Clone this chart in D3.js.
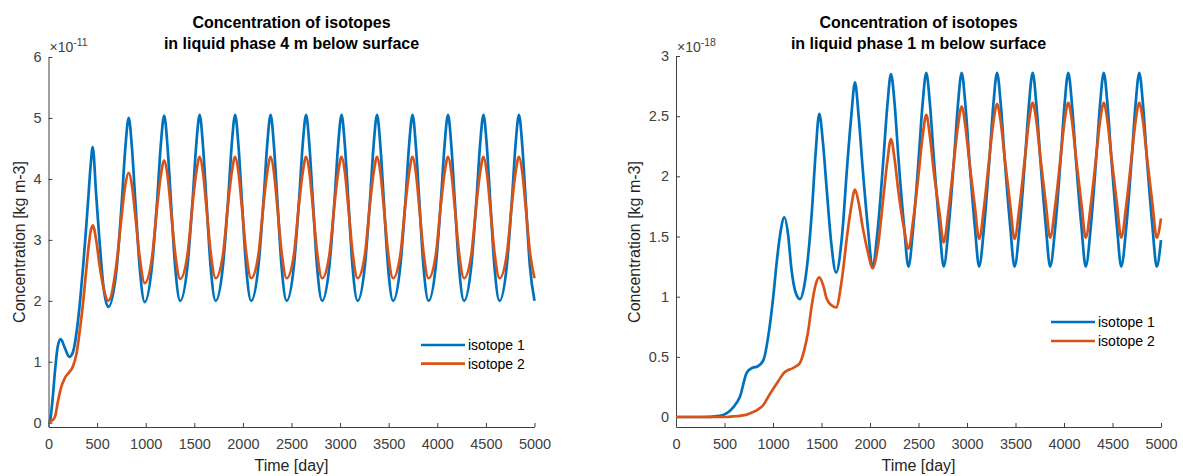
<!DOCTYPE html>
<html>
<head>
<meta charset="utf-8">
<script src="https://cdn.jsdelivr.net/npm/d3@7"></script>
<style>
  body { margin: 0; background: #fff; }
  svg, svg text { font-family: "Liberation Sans", Arial, Helvetica, sans-serif; }
  .tick text { fill: #404040; font-size: 14.5px; font-family: "Liberation Sans", Arial, Helvetica, sans-serif; }
  .domain, .tick line { stroke: #404040; }
</style>
</head>
<body>
<div id="chart"></div>
<script>
// Time axis ticks shared by both panels
const xTicks = [0, 500, 1000, 1500, 2000, 2500, 3000, 3500, 4000, 4500, 5000];
const seriesNames = ["isotope 1", "isotope 2"];

// Left panel: 4 m below surface (values x 1e-11)
const leftTitle = ["Concentration of isotopes", "in liquid phase 4 m below surface"];
const leftYTicks = [0, 1, 2, 3, 4, 5, 6];
const leftDays = [
  0, 15, 40, 67, 95, 125, 170, 214, 250, 290, 325, 358, 385, 410, 435, 455, 490, 524, 568, 615,
  699, 753, 790, 825, 860, 894, 938, 990,
  1064, 1118, 1155, 1190, 1225, 1259, 1303, 1355,
  1429, 1483, 1520, 1555, 1590, 1624, 1668, 1720,
  1794, 1848, 1885, 1920, 1955, 1989, 2033, 2085,
  2159, 2213, 2250, 2285, 2320, 2354, 2398, 2450,
  2524, 2578, 2615, 2650, 2685, 2719, 2763, 2815,
  2889, 2943, 2980, 3015, 3050, 3084, 3128, 3180,
  3254, 3308, 3345, 3380, 3415, 3449, 3493, 3545,
  3619, 3673, 3710, 3745, 3780, 3814, 3858, 3910,
  3984, 4038, 4075, 4110, 4145, 4179, 4223, 4275,
  4349, 4403, 4440, 4475, 4510, 4544, 4588, 4640,
  4714, 4768, 4805, 4840, 4875, 4909, 4953, 5000
];
const leftIso1 = [
  0, 0.03, 0.35, 0.85, 1.25, 1.37, 1.22, 1.08, 1.15, 1.5, 2.0, 2.6, 3.15, 3.7, 4.25, 4.52, 3.75, 3.0, 2.2, 1.9,
  2.5, 3.6, 4.5, 5.0, 4.48, 3.62, 2.55, 1.98,
  2.56, 3.65, 4.55, 5.04, 4.52, 3.65, 2.56, 2.0,
  2.56, 3.66, 4.56, 5.05, 4.53, 3.66, 2.56, 2.0,
  2.56, 3.66, 4.56, 5.05, 4.53, 3.66, 2.56, 2.0,
  2.56, 3.66, 4.56, 5.05, 4.53, 3.66, 2.56, 2.0,
  2.56, 3.66, 4.56, 5.05, 4.53, 3.66, 2.56, 2.0,
  2.56, 3.66, 4.56, 5.05, 4.53, 3.66, 2.56, 2.0,
  2.56, 3.66, 4.56, 5.05, 4.53, 3.66, 2.56, 2.0,
  2.56, 3.66, 4.56, 5.05, 4.53, 3.66, 2.56, 2.0,
  2.56, 3.66, 4.56, 5.05, 4.53, 3.66, 2.56, 2.0,
  2.56, 3.66, 4.56, 5.05, 4.53, 3.66, 2.56, 2.0,
  2.56, 3.66, 4.56, 5.05, 4.53, 3.66, 2.56, 2.0
];
const leftIso2 = [
  0.02, 0.02, 0.04, 0.1, 0.33, 0.55, 0.74, 0.83, 0.92, 1.15, 1.55, 2.0, 2.45, 2.85, 3.15, 3.24, 3.0, 2.6, 2.2, 2.0,
  2.6, 3.4, 3.9, 4.1, 3.88, 3.38, 2.72, 2.29,
  2.7, 3.55, 4.05, 4.3, 4.05, 3.5, 2.78, 2.36,
  2.75, 3.6, 4.1, 4.36, 4.1, 3.55, 2.8, 2.37,
  2.75, 3.6, 4.1, 4.36, 4.1, 3.55, 2.8, 2.37,
  2.75, 3.6, 4.1, 4.36, 4.1, 3.55, 2.8, 2.37,
  2.75, 3.6, 4.1, 4.36, 4.1, 3.55, 2.8, 2.37,
  2.75, 3.6, 4.1, 4.36, 4.1, 3.55, 2.8, 2.37,
  2.75, 3.6, 4.1, 4.36, 4.1, 3.55, 2.8, 2.37,
  2.75, 3.6, 4.1, 4.36, 4.1, 3.55, 2.8, 2.37,
  2.75, 3.6, 4.1, 4.36, 4.1, 3.55, 2.8, 2.37,
  2.75, 3.6, 4.1, 4.36, 4.1, 3.55, 2.8, 2.37,
  2.75, 3.6, 4.1, 4.36, 4.1, 3.55, 2.8, 2.37
];

// Right panel: 1 m below surface (values x 1e-18)
const rightTitle = ["Concentration of isotopes", "in liquid phase 1 m below surface"];
const rightYTicks = [0, 0.5, 1, 1.5, 2, 2.5, 3];
const rightDays = [
  0, 250, 450, 520, 590, 660, 730, 790, 840, 900, 960, 1000, 1040, 1080, 1117, 1155, 1190, 1235, 1278, 1320,
  1360, 1400, 1440, 1477, 1515, 1555, 1600, 1650,
  1711, 1766, 1807, 1845, 1883, 1924, 1981, 2025,
  2082, 2137, 2178, 2216, 2254, 2295, 2352, 2396,
  2446, 2501, 2542, 2580, 2618, 2659, 2716, 2760,
  2811, 2866, 2907, 2945, 2983, 3024, 3081, 3125,
  3176, 3231, 3272, 3310, 3348, 3389, 3446, 3490,
  3543, 3598, 3639, 3677, 3715, 3756, 3813, 3857,
  3910, 3965, 4006, 4044, 4082, 4123, 4180, 4224,
  4276, 4331, 4372, 4410, 4448, 4489, 4546, 4590,
  4642, 4697, 4738, 4776, 4814, 4855, 4912, 4956,
  5000
];
const rightIso1 = [
  0, 0, 0.01, 0.03, 0.08, 0.17, 0.37, 0.41, 0.42, 0.47, 0.72, 0.98, 1.3, 1.55, 1.66, 1.52, 1.23, 1.03, 0.98, 1.08,
  1.32, 1.7, 2.2, 2.52, 2.28, 1.88, 1.45, 1.2,
  1.5, 2.1, 2.5, 2.78, 2.5, 2.07, 1.55, 1.25,
  1.58, 2.13, 2.58, 2.85, 2.6, 2.13, 1.58, 1.25,
  1.58, 2.14, 2.6, 2.86, 2.6, 2.14, 1.58, 1.25,
  1.58, 2.14, 2.6, 2.86, 2.6, 2.14, 1.58, 1.25,
  1.58, 2.14, 2.6, 2.86, 2.6, 2.14, 1.58, 1.25,
  1.58, 2.14, 2.6, 2.86, 2.6, 2.14, 1.58, 1.25,
  1.58, 2.14, 2.6, 2.86, 2.6, 2.14, 1.58, 1.25,
  1.58, 2.14, 2.6, 2.86, 2.6, 2.14, 1.58, 1.25,
  1.58, 2.14, 2.6, 2.86, 2.6, 2.14, 1.58, 1.25,
  1.47
];
const rightIso2 = [
  0, 0, 0, 0, 0.005, 0.01, 0.02, 0.04, 0.06, 0.1, 0.18, 0.23, 0.28, 0.33, 0.37, 0.39, 0.4, 0.42, 0.45, 0.55,
  0.7, 0.93, 1.1, 1.16, 1.1, 0.98, 0.93, 0.91,
  1.15, 1.52, 1.75, 1.89, 1.78, 1.58, 1.36, 1.235,
  1.42, 1.82, 2.12, 2.31, 2.14, 1.86, 1.56, 1.4,
  1.64, 2.02, 2.33, 2.51, 2.33, 2.03, 1.7, 1.45,
  1.73, 2.13, 2.42, 2.58, 2.42, 2.12, 1.75, 1.48,
  1.75, 2.16, 2.45, 2.6, 2.45, 2.15, 1.76, 1.48,
  1.76, 2.16, 2.46, 2.61, 2.46, 2.16, 1.77, 1.49,
  1.76, 2.16, 2.46, 2.61, 2.46, 2.16, 1.77, 1.49,
  1.76, 2.16, 2.46, 2.61, 2.46, 2.16, 1.77, 1.49,
  1.76, 2.16, 2.46, 2.61, 2.46, 2.16, 1.77, 1.49,
  1.65
];

const colors = ["#0072BD", "#D95319"];
const width = 1183, height = 476;

const svg = d3.select("#chart").append("svg")
  .attr("width", width)
  .attr("height", height);

function drawPanel(p) {
  const x = d3.scaleLinear().domain([0, 5000]).range([p.left, p.right]);
  const y = d3.scaleLinear().domain(p.yDomain).range([427, p.top]);
  const g = svg.append("g");

  // axes (ticks point inward, like MATLAB)
  g.append("g")
    .attr("transform", "translate(0,427)")
    .call(d3.axisBottom(x).tickValues(xTicks).tickSizeInner(-4).tickSizeOuter(0).tickPadding(12)
      .tickFormat(d => String(d)));
  g.append("g")
    .attr("transform", `translate(${p.left},0)`)
    .call(d3.axisLeft(y).tickValues(p.yTicks).tickSizeInner(-4).tickSizeOuter(0).tickPadding(7)
      .tickFormat(d => String(d)));

  // lines
  const series = [p.iso1, p.iso2];
  series.forEach((vals, i) => {
    const line = d3.line()
      .x((d, j) => x(p.days[j]))
      .y(d => y(d))
      .curve(d3.curveMonotoneX);
    g.append("path")
      .datum(vals)
      .attr("fill", "none")
      .attr("stroke", colors[i])
      .attr("stroke-width", 2.7)
      .attr("d", line);
  });

  // exponent
  const ex = g.append("text")
    .attr("x", p.left + 1).attr("y", 52)
    .attr("fill", "#404040").attr("font-size", 14);
  ex.append("tspan").text("\u00d710");
  ex.append("tspan").attr("dy", -6).attr("font-size", 10.5).text(p.exponent);

  // title
  const cx = (p.left + p.right) / 2;
  p.title.forEach((t, i) => {
    g.append("text")
      .attr("x", cx).attr("y", 28 + i * 21)
      .attr("text-anchor", "middle")
      .attr("font-weight", "bold").attr("font-size", 16)
      .attr("fill", "#000")
      .text(t);
  });

  // axis labels
  g.append("text")
    .attr("x", cx).attr("y", 471)
    .attr("text-anchor", "middle").attr("font-size", 16).attr("fill", "#262626")
    .text("Time [day]");
  g.append("text")
    .attr("transform", `translate(${p.ylabelX},242) rotate(-90)`)
    .attr("text-anchor", "middle").attr("font-size", 16).attr("fill", "#262626")
    .text("Concentration [kg m-3]");

  // legend
  seriesNames.forEach((name, i) => {
    const ly = p.legY + i * p.legStep;
    g.append("line")
      .attr("x1", p.legX).attr("x2", p.legX + p.legLen)
      .attr("y1", ly).attr("y2", ly)
      .attr("stroke", colors[i]).attr("stroke-width", 2.7);
    g.append("text")
      .attr("x", p.legX + p.legLen + 3).attr("y", ly)
      .attr("dy", "0.35em").attr("font-size", 14).attr("fill", "#000")
      .text(name);
  });
}

drawPanel({
  left: 48.5, right: 534.5, top: 57, yDomain: [-0.07, 6], yTicks: leftYTicks,
  days: leftDays, iso1: leftIso1, iso2: leftIso2, title: leftTitle, exponent: "-11",
  ylabelX: 25, legX: 421, legY: 345, legStep: 18.6, legLen: 44
});

drawPanel({
  left: 676, right: 1161, top: 56, yDomain: [-0.083, 3], yTicks: rightYTicks,
  days: rightDays, iso1: rightIso1, iso2: rightIso2, title: rightTitle, exponent: "-18",
  ylabelX: 640, legX: 1051, legY: 322, legStep: 19, legLen: 44
});
</script>
</body>
</html>
